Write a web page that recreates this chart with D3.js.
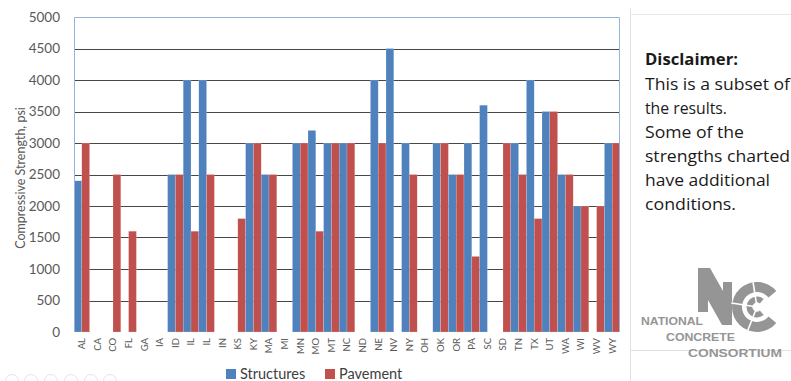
<!DOCTYPE html>
<html>
<head>
<meta charset="utf-8">
<script src="https://cdn.jsdelivr.net/npm/d3@7"></script>
<style>
  html, body { margin: 0; padding: 0; background: #fff; }
  svg { display: block; }
</style>
</head>
<body>
<svg id="chart" width="791" height="381"></svg>
<script>
// Minimum compressive strength by state (psi); null = not reported
const states = ["AL","CA","CO","FL","GA","IA","ID","IL","IL","IN","KS","KY","MA","MI","MN","MO","MT","NC","ND","NE","NV","NY","OH","OK","OR","PA","SC","SD","TN","TX","UT","WA","WI","WV","WY"];
const structures = [2400,null,null,null,null,null,2500,4000,4000,null,null,3000,2500,null,3000,3200,3000,3000,null,4000,4500,3000,null,3000,2500,3000,3600,null,3000,4000,3500,2500,2000,null,3000];
const pavement   = [3000,null,2500,1600,null,null,2500,1600,2500,null,1800,3000,2500,null,3000,1600,3000,3000,null,3000,null,2500,null,3000,2500,1200,null,3000,2500,1800,3500,2500,2000,2000,3000];
const yTicks = [0,500,1000,1500,2000,2500,3000,3500,4000,4500,5000];
const seriesNames = ["Structures","Pavement"];
const seriesColors = ["#4F81BD","#C0504D"];
const disclaimer = ["This is a subset of","the results.","Some of the","strengths charted","have additional","conditions."];
const disclaimerWidths = [145, 82, 99, 145, 125, 91];

const svg = d3.select("#chart");
const font = "Lato, 'Open Sans', sans-serif";
const plot = {left: 74, right: 620, top: 17, bottom: 332};

const x = d3.scaleBand().domain(d3.range(states.length)).range([plot.left, plot.right]).padding(0);
const xs = d3.scaleBand().domain(seriesNames).range([0, x.bandwidth()]).padding(0);
const y = d3.scaleLinear().domain([0, 5000]).range([plot.bottom, plot.top]);

// gridlines
svg.append("g").selectAll("line").data(yTicks.filter(t => t > 0 && t < 5000)).join("line")
  .attr("x1", plot.left).attr("x2", plot.right)
  .attr("y1", d => Math.round(y(d)) + 0.5).attr("y2", d => Math.round(y(d)) + 0.5)
  .attr("stroke", "#474747").attr("stroke-width", 1);

// bars
const rows = states.map((s, i) => ({i, vals: [structures[i], pavement[i]]}));
const groups = svg.append("g").selectAll("g").data(rows).join("g")
  .attr("transform", d => `translate(${x(d.i)},0)`);
groups.selectAll("rect")
  .data(d => d.vals.map((v, k) => ({v, k})).filter(o => o.v != null))
  .join("rect")
  .attr("x", o => xs(seriesNames[o.k]))
  .attr("width", xs.bandwidth())
  .attr("y", o => y(o.v))
  .attr("height", o => y(0) - y(o.v))
  .attr("fill", o => seriesColors[o.k])
  .attr("stroke", "rgba(255,255,255,0.35)").attr("stroke-width", 0.5);

// plot border
svg.append("path")
  .attr("d", `M${plot.left + 0.5},${plot.bottom}V${plot.top + 0.5}H${plot.right - 0.5}V${plot.bottom}`)
  .attr("fill", "none").attr("stroke", "#95B3D7").attr("stroke-width", 1);

// y axis labels
const yAxis = d3.axisLeft(y).tickValues(yTicks).tickSize(0).tickPadding(14).tickFormat(d3.format("d"));
const yg = svg.append("g").attr("transform", `translate(${plot.left},0)`).call(yAxis);
yg.select(".domain").remove();
yg.selectAll("text").attr("font-family", font).attr("font-size", 13.5).attr("fill", "#595959");

// x axis labels (rotated)
const xAxis = d3.axisBottom(x).tickSize(0).tickPadding(0).tickFormat(i => states[i]);
const xg = svg.append("g").attr("transform", `translate(0,${plot.bottom})`).call(xAxis);
xg.select(".domain").remove();
xg.selectAll("text")
  .attr("font-family", font).attr("font-size", 9.5).attr("fill", "#595959")
  .attr("transform", "rotate(-90)")
  .attr("text-anchor", "end").attr("x", -6).attr("y", 0).attr("dy", "0.35em");

// y axis title
svg.append("text")
  .attr("transform", "translate(21,178) rotate(-90)")
  .attr("text-anchor", "middle").attr("dy", "0.35em")
  .attr("font-family", font).attr("font-size", 12.5).attr("fill", "#595959")
  .text("Compressive Strength, psi");

// legend
const leg = svg.append("g").selectAll("g").data(seriesNames).join("g")
  .attr("transform", (d, k) => `translate(${[226, 325][k]},369)`);
leg.append("rect").attr("width", 10).attr("height", 10).attr("fill", (d, k) => seriesColors[k]);
leg.append("text").attr("x", 14).attr("y", 5).attr("dy", "0.35em")
  .attr("font-family", font).attr("font-size", 14.5).attr("fill", "#404040").text(d => d);

// side panel frame
const side = svg.append("g");
side.append("line").attr("x1", 630.5).attr("x2", 630.5).attr("y1", 8).attr("y2", 381).attr("stroke", "#e2e2e2");
side.append("line").attr("x1", 630).attr("x2", 791).attr("y1", 14.5).attr("y2", 14.5).attr("stroke", "#e8e8e8");
side.append("line").attr("x1", 630).attr("x2", 791).attr("y1", 350.5).attr("y2", 350.5).attr("stroke", "#e2e2e2");

// disclaimer text
const sideFont = "'Open Sans', Lato, sans-serif";
side.append("text").attr("x", 645).attr("y", 65)
  .attr("font-family", sideFont).attr("font-size", 16).attr("font-weight", 700).attr("fill", "#1a1a1a")
  .attr("textLength", 93).attr("lengthAdjust", "spacingAndGlyphs")
  .text("Disclaimer:");
side.selectAll("text.line").data(disclaimer).join("text").attr("class", "line")
  .attr("x", 645).attr("y", (d, i) => 89.5 + i * 24.1)
  .attr("font-family", sideFont).attr("font-size", 16).attr("fill", "#1a1a1a")
  .attr("textLength", (d, i) => disclaimerWidths[i]).attr("lengthAdjust", "spacingAndGlyphs")
  .text(d => d);

// consortium logo
const logoGrey = "#959595";
const logo = side.append("g").attr("fill", logoGrey);
logo.append("path").attr("d", "M698,268 L710,268 L723,291 L723,282 L732,282 L732,325 L722,325 L708,300 L708,312 L698,312 Z");
const arc = d3.arc();
const cCenter = [757, 307];
logo.append("path").attr("transform", `translate(${cCenter})`)
  .attr("d", arc({innerRadius: 15, outerRadius: 25, startAngle: Math.PI * 0.72, endAngle: Math.PI * 2.28}));
logo.append("path").attr("transform", `translate(${cCenter})`)
  .attr("d", arc({innerRadius: 4.5, outerRadius: 10.5, startAngle: Math.PI * 0.78, endAngle: Math.PI * 2.22}));
// segment cuts in the C strokes
logo.append("g").attr("transform", `translate(${cCenter})`)
  .selectAll("line").data([1.12, 1.55, 1.95]).join("line")
  .attr("x1", a => 3 * Math.sin(a * Math.PI)).attr("y1", a => -3 * Math.cos(a * Math.PI))
  .attr("x2", a => 26 * Math.sin(a * Math.PI)).attr("y2", a => -26 * Math.cos(a * Math.PI))
  .attr("stroke", "#fff").attr("stroke-width", 1.6);
const logoText = [["NATIONAL", 641, 325, 62], ["CONCRETE", 666, 341, 69], ["CONSORTIUM", 688, 357, 94]];
logo.selectAll("text").data(logoText).join("text")
  .attr("x", d => d[1]).attr("y", d => d[2])
  .attr("font-family", "'Liberation Sans', Arial, sans-serif").attr("font-weight", 700)
  .attr("font-size", 11.5).attr("fill", logoGrey)
  .attr("textLength", d => d[3]).attr("lengthAdjust", "spacingAndGlyphs")
  .text(d => d[0]);

// slide navigation controls
svg.append("g").selectAll("circle").data([12, 31, 51, 71, 91, 110]).join("circle")
  .attr("cx", d => d).attr("cy", 381).attr("r", 6.5)
  .attr("fill", "none").attr("stroke", "#e4e4e4").attr("stroke-width", 1);
</script>
</body>
</html>
